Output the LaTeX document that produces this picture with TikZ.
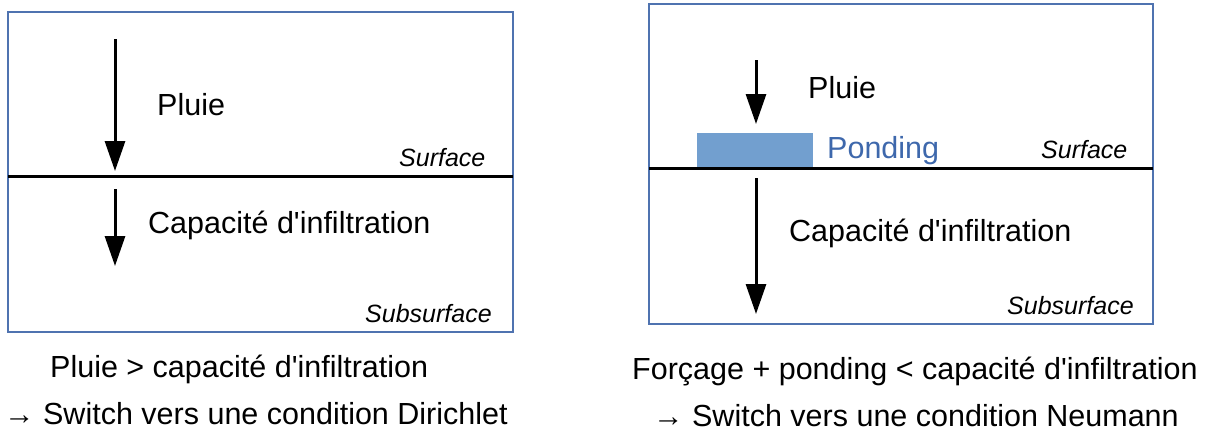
\documentclass[tikz,border=0pt]{standalone}
\usepackage{fontspec}
\setmainfont{Liberation Sans}[Ligatures=TeXOff]
\usetikzlibrary{arrows.meta}
\definecolor{boxblue}{RGB}{79,115,176}
\definecolor{pondfill}{RGB}{114,159,207}
\definecolor{pondtext}{RGB}{62,104,172}
\tikzset{
  frame/.style={draw=boxblue, line width=2pt},
  ground/.style={draw=black, line width=3pt},
  flow/.style={draw=black, line width=3pt, -{Triangle[length=30pt,width=20pt]}},
  lbl/.style={inner sep=0pt, anchor=base west, font=\fontsize{30.5}{36}\selectfont},
  tag/.style={inner sep=0pt, anchor=base west, font=\fontsize{25}{30}\selectfont\itshape},
}
\begin{document}
\begin{tikzpicture}[x=1pt,y=-1pt]
\useasboundingbox (0,0) rectangle (1208,432);
% ---------- left panel ----------
\draw[frame] (8,12) rectangle (513,332);
\coordinate (Lsl) at (8,176);
\coordinate (Lsr) at (513,176);
\draw[ground] (Lsl) -- (Lsr);
\coordinate (La1s) at (115,39);
\coordinate (La1e) at (115,171);
\coordinate (La2s) at (115,189);
\coordinate (La2e) at (115,266);
\draw[flow] (La1s) -- (La1e);
\draw[flow] (La2s) -- (La2e);
\node[lbl] (Lpluie) at (157,115) {Pluie};
\node[lbl] (Lcap) at (148,233) {Capacité d'infiltration};
\node[tag] (Lsurf) at (399,166) {Surface};
\node[tag] (Lsub) at (365,322) {Subsurface};
% ---------- right panel ----------
\draw[frame] (649,4) rectangle (1153,324);
\fill[pondfill] (697,133) rectangle (813,167);
\coordinate (Rsl) at (649,168);
\coordinate (Rsr) at (1153,168);
\draw[ground] (Rsl) -- (Rsr);
\coordinate (Ra1s) at (756,60);
\coordinate (Ra1e) at (756,124);
\coordinate (Ra2s) at (756,178);
\coordinate (Ra2e) at (756,314);
\draw[flow] (Ra1s) -- (Ra1e);
\draw[flow] (Ra2s) -- (Ra2e);
\node[lbl] (Rpluie) at (808,98) {Pluie};
\node[lbl, text=pondtext] (Rpond) at (827,158) {Ponding};
\node[tag] (Rsurf) at (1041,158) {Surface};
\node[lbl] (Rcap) at (789,241) {Capacité d'infiltration};
\node[tag] (Rsub) at (1007,314) {Subsurface};
% ---------- captions ----------
\node[lbl] (Lc1) at (50,377) {Pluie > capacité d'infiltration};
\node[lbl] (Lc2) at (4,424) {→ Switch vers une condition Dirichlet};
\node[lbl] (Rc1) at (632,379) {Forçage + ponding < capacité d'infiltration};
\node[lbl] (Rc2) at (653,426) {→ Switch vers une condition Neumann};
\end{tikzpicture}
\end{document}
